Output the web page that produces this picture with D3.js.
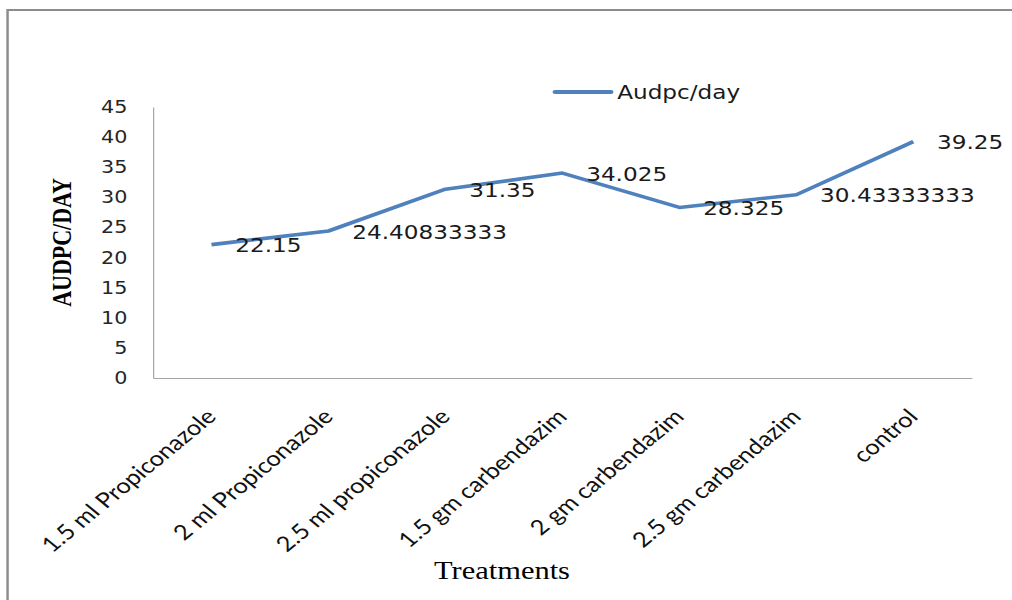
<!DOCTYPE html>
<html>
<head>
<meta charset="utf-8">
<script src="https://cdn.jsdelivr.net/npm/d3@7"></script>
<style>
  html, body { margin: 0; padding: 0; background: #fff; overflow: hidden; }
  svg { display: block; }
</style>
</head>
<body>
<svg id="chart"></svg>
<script>
const categories = ["1.5 ml Propiconazole", "2 ml Propiconazole", "2.5 ml propiconazole",
                    "1.5 gm carbendazim", "2 gm carbendazim", "2.5 gm carbendazim", "control"];
const audpcValues = [22.15, 24.40833333, 31.35, 34.025, 28.325, 30.43333333, 39.25];
const valueLabels = ["22.15", "24.40833333", "31.35", "34.025", "28.325", "30.43333333", "39.25"];
const yTicks = [0, 5, 10, 15, 20, 25, 30, 35, 40, 45];
const seriesName = "Audpc/day";
const yTitle = "AUDPC/DAY";
const xTitle = "Treatments";

// the original picture is stretched sideways, so draw in a narrower box and stretch it
const attr_area = {
  width: 1012,
  height: 600,
  innerWidth: 830,
  left: 125.5,
  right: 797,
  top: 107,
  bottom: 378
};

const lineColor = "#4f81bd";

function drawChart() {
  let svg = d3.select("#chart")
    .attr("width", attr_area.width)
    .attr("height", attr_area.height)
    .attr("viewBox", `0 0 ${attr_area.innerWidth} ${attr_area.height}`)
    .attr("preserveAspectRatio", "none");

  // outer frame (runs off the right and bottom edges)
  svg.append("rect")
    .attr("x", 6.2)
    .attr("y", 10)
    .attr("width", attr_area.innerWidth + 100)
    .attr("height", attr_area.height + 100)
    .style("fill", "none")
    .style("stroke", "#8c8c8c")
    .style("stroke-width", 2);

  const scaleX = d3.scaleBand()
    .domain(categories)
    .range([attr_area.left, attr_area.right]);

  const scaleY = d3.scaleLinear()
    .domain([0, 45])
    .range([attr_area.bottom, attr_area.top]);

  const cx = d => scaleX(d) + scaleX.bandwidth() / 2;

  // axes lines, no tick marks
  const axisY = d3.axisLeft(scaleY).tickValues(yTicks).tickSize(0).tickPadding(21);
  const gY = svg.append("g")
    .attr("transform", `translate(${attr_area.left}, 0)`)
    .call(axisY);
  gY.select(".domain").attr("stroke", "#a6a6a6").attr("stroke-width", 1);
  gY.selectAll("text")
    .style("font-family", "'DejaVu Sans', Verdana, sans-serif")
    .style("font-size", "17px")
    .style("fill", "#262626");

  const axisX = d3.axisBottom(scaleX).tickSize(0).tickFormat("");
  const gX = svg.append("g")
    .attr("transform", `translate(0, ${attr_area.bottom})`)
    .call(axisX);
  gX.select(".domain").attr("stroke", "#a6a6a6").attr("stroke-width", 1);

  // rotated category labels
  svg.append("g")
    .selectAll("text")
    .data(categories)
    .enter()
    .append("text")
    .attr("transform", d => `translate(${cx(d) + 5}, ${attr_area.bottom + 40}) rotate(-45)`)
    .style("text-anchor", "end")
    .style("font-family", "Lato, 'Open Sans', sans-serif")
    .style("font-size", "21px")
    .style("fill", "#111")
    .text(d => d);

  // line
  const line = d3.line()
    .x((d, i) => cx(categories[i]))
    .y(d => scaleY(d));

  svg.append("path")
    .datum(audpcValues)
    .attr("d", line)
    .style("fill", "none")
    .style("stroke", lineColor)
    .style("stroke-width", 3.6)
    .style("stroke-linejoin", "round");

  // data labels
  svg.append("g")
    .selectAll("text")
    .data(audpcValues)
    .enter()
    .append("text")
    .attr("x", (d, i) => cx(categories[i]) + 19.5)
    .attr("y", d => scaleY(d) + 1)
    .attr("dy", "0.35em")
    .style("font-family", "'DejaVu Sans', Verdana, sans-serif")
    .style("font-size", "19px")
    .style("fill", "#1a1a1a")
    .text((d, i) => valueLabels[i]);

  // legend
  const legX = 555 / 1.2193, legY = 92;
  svg.append("line")
    .attr("x1", legX)
    .attr("x2", legX + 46)
    .attr("y1", legY)
    .attr("y2", legY)
    .style("stroke", lineColor)
    .style("stroke-width", 4)
    .style("stroke-linecap", "round");
  svg.append("text")
    .attr("x", legX + 51)
    .attr("y", legY)
    .attr("dy", "0.35em")
    .style("font-family", "'DejaVu Sans', Verdana, sans-serif")
    .style("font-size", "19px")
    .style("fill", "#1a1a1a")
    .text(seriesName);

  // axis titles
  svg.append("text")
    .attr("transform", `translate(58, 242.5) rotate(-90)`)
    .style("text-anchor", "middle")
    .style("font-family", "'Liberation Serif', 'Times New Roman', serif")
    .style("font-weight", "bold")
    .style("font-size", "22px")
    .style("fill", "#000")
    .text(yTitle);

  svg.append("text")
    .attr("x", 411.7)
    .attr("y", 579)
    .style("text-anchor", "middle")
    .style("font-family", "'Liberation Serif', 'Times New Roman', serif")
    .style("font-size", "25px")
    .style("fill", "#000")
    .text(xTitle);
}

drawChart();
</script>
</body>
</html>
